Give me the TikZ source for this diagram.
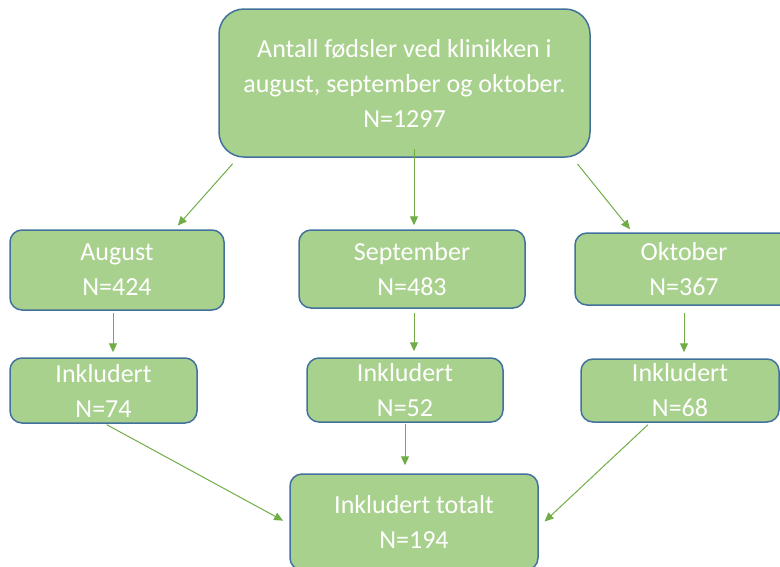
\documentclass[tikz,border=0pt]{standalone}
\usepackage{fontspec}
\setmainfont{Carlito}
\usepackage{xcolor}
\usetikzlibrary{arrows.meta}
\definecolor{boksgronn}{HTML}{A9D18E}
\definecolor{boksblaa}{HTML}{41719C}
\definecolor{pilgronn}{HTML}{70AD47}

\begin{document}
\begin{tikzpicture}[x=1pt, y=-1pt,
  boks/.style={rectangle, rounded corners=12pt, draw=boksblaa, line width=1.5pt,
    fill=boksgronn, text=white, align=center, inner sep=0pt,
    font=\fontsize{26}{35}\selectfont},
  pil/.style={draw=pilgronn, line width=1pt, -{Triangle[length=9pt,width=8pt]}}]
\clip (0,0) rectangle (780,566);

% Bokser
\node[boks, rounded corners=25pt, minimum width=371pt, minimum height=148pt] (alle) at (404.5,83)
  {Antall fødsler ved klinikken i\\august, september og oktober.\\N=1297};
\node[boks, minimum width=214pt, minimum height=80pt] (aug) at (117,270) {August\\N=424};
\node[boks, minimum width=226pt, minimum height=78pt] (sep) at (412,269) {September\\N=483};
\node[boks, minimum width=218pt, minimum height=72pt] (okt) at (684,269) {Oktober\\N=367};
\node[boks, minimum width=187pt, minimum height=65pt] (inklaug) at (103.5,390.5) {Inkludert\\N=74};
\node[boks, minimum width=196pt, minimum height=64pt] (inklsep) at (405,390) {Inkludert\\N=52};
\node[boks, minimum width=198pt, minimum height=63pt] (inklokt) at (680,390.5) {Inkludert\\N=68};
\node[boks, minimum width=248pt, minimum height=96pt] (inkltot) at (414,522) {Inkludert totalt\\N=194};

% Piler
\draw[pil, shorten <=8pt, shorten >=5pt] ([xshift=-166.5pt]alle.south) -- ([xshift=57.5pt]aug.north);
\draw[pil, shorten <=-9pt, shorten >=4pt] ([xshift=9.5pt]alle.south) -- ([xshift=9.5pt]alle.south |- sep.north);
\draw[pil, shorten <=8pt, shorten >=4pt] ([xshift=168pt]alle.south) -- ([xshift=-51.5pt]okt.north);
\draw[pil, shorten <=2pt, shorten >=5pt] ([xshift=-4pt]aug.south) -- ([xshift=-4pt]aug.south |- inklaug.north);
\draw[pil, shorten <=4pt, shorten >=6pt] ([xshift=2pt]sep.south) -- ([xshift=2pt]sep.south |- inklsep.north);
\draw[pil, shorten <=7pt, shorten >=6pt] (okt.south) -- (okt.south |- inklokt.north);
\draw[pil, shorten <=2pt, shorten >=7pt] ([xshift=1.5pt]inklaug.south) -- ([yshift=-2pt]inkltot.west);
\draw[pil, shorten <=1pt, shorten >=8pt] (inklsep.south) -- (inklsep.south |- inkltot.north);
\draw[pil, shorten <=3pt, shorten >=8pt] ([xshift=-30pt]inklokt.south) -- ([yshift=-5pt]inkltot.east);
\end{tikzpicture}
\end{document}
